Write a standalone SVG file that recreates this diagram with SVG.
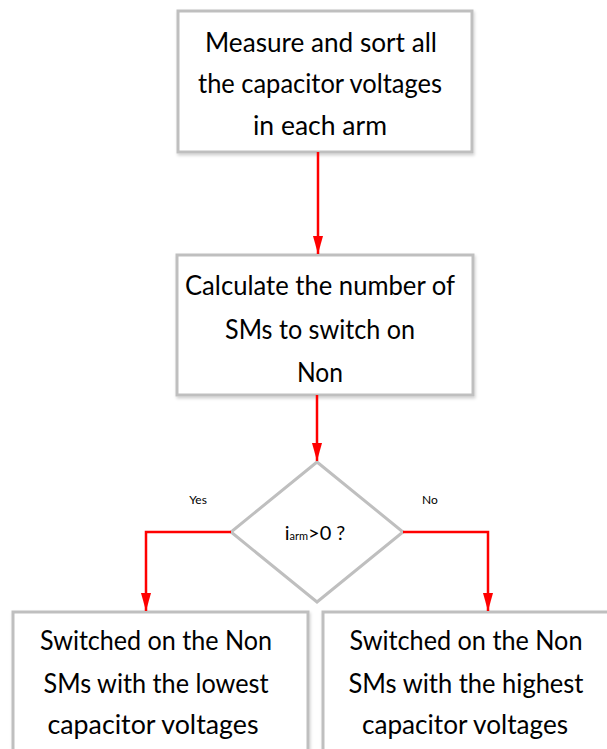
<svg xmlns="http://www.w3.org/2000/svg" width="607" height="749" viewBox="0 0 607 749">
  <style>
    .box { fill: #ffffff; stroke: #bfbfbf; stroke-width: 3; filter: url(#shadow); }
    .lbl { font-family: Lato, "Liberation Sans", sans-serif; font-size: 26px; fill: #000000; text-anchor: middle; }
    .small { font-family: Lato, "Liberation Sans", sans-serif; font-size: 12px; fill: #000000; text-anchor: middle; }
    .link { fill: none; stroke: #ff0000; stroke-width: 2.5; }
  </style>
  <defs>
    <filter id="shadow" x="-10%" y="-10%" width="120%" height="130%">
      <feDropShadow dx="1" dy="2" stdDeviation="1.5" flood-color="#000000" flood-opacity="0.18"/>
    </filter>
    <marker id="head" viewBox="0 0 18 10" refX="18" refY="5" markerWidth="18" markerHeight="10" markerUnits="userSpaceOnUse" orient="auto">
      <path d="M0,0 L18,5 L0,10 Z" fill="#ff0000"/>
    </marker>
  </defs>

  <g id="measure">
    <rect class="box" x="178" y="11" width="294" height="141"/>
    <text class="lbl" x="321" y="52" textLength="232" lengthAdjust="spacingAndGlyphs">Measure and sort all</text>
    <text class="lbl" x="320" y="93" textLength="244" lengthAdjust="spacingAndGlyphs">the capacitor voltages</text>
    <text class="lbl" x="320" y="135" textLength="134" lengthAdjust="spacingAndGlyphs">in each arm</text>
  </g>

  <g id="calculate">
    <rect class="box" x="177" y="255" width="296" height="140"/>
    <text class="lbl" x="320" y="295" textLength="270" lengthAdjust="spacingAndGlyphs">Calculate the number of</text>
    <text class="lbl" x="320" y="339" textLength="190" lengthAdjust="spacingAndGlyphs">SMs to switch on</text>
    <text class="lbl" x="320" y="382" textLength="46" lengthAdjust="spacingAndGlyphs">Non</text>
  </g>

  <g id="decision">
    <polygon points="317,462 403,532 317,602 231,532" fill="#ffffff" stroke="#bfbfbf" stroke-width="3"/>
    <text x="315" y="540" style="font-family: Lato, 'Liberation Sans', sans-serif; font-size: 20px; text-anchor: middle;">i<tspan font-size="11">arm</tspan>&gt;0 ?</text>
  </g>

  <g id="lowest">
    <rect class="box" x="13" y="612" width="295" height="160"/>
    <text class="lbl" x="156" y="650" textLength="232" lengthAdjust="spacingAndGlyphs">Switched on the Non</text>
    <text class="lbl" x="156" y="693" textLength="225" lengthAdjust="spacingAndGlyphs">SMs with the lowest</text>
    <text class="lbl" x="153" y="734" textLength="211" lengthAdjust="spacingAndGlyphs">capacitor voltages</text>
  </g>

  <g id="highest">
    <rect class="box" x="323" y="612" width="300" height="160"/>
    <text class="lbl" x="466" y="650" textLength="233" lengthAdjust="spacingAndGlyphs">Switched on the Non</text>
    <text class="lbl" x="466" y="693" textLength="235" lengthAdjust="spacingAndGlyphs">SMs with the highest</text>
    <text class="lbl" x="465" y="734" textLength="206" lengthAdjust="spacingAndGlyphs">capacitor voltages</text>
  </g>

  <g id="connectors">
    <path class="link" d="M318,152 L318,254" marker-end="url(#head)"/>
    <path class="link" d="M317,395 L317,461" marker-end="url(#head)"/>
    <path class="link" d="M231,532 L146,532 L146,611" marker-end="url(#head)"/>
    <path class="link" d="M403,532 L488,532 L488,611" marker-end="url(#head)"/>
    <text class="small" x="198" y="504">Yes</text>
    <text class="small" x="430" y="504">No</text>
  </g>
</svg>
